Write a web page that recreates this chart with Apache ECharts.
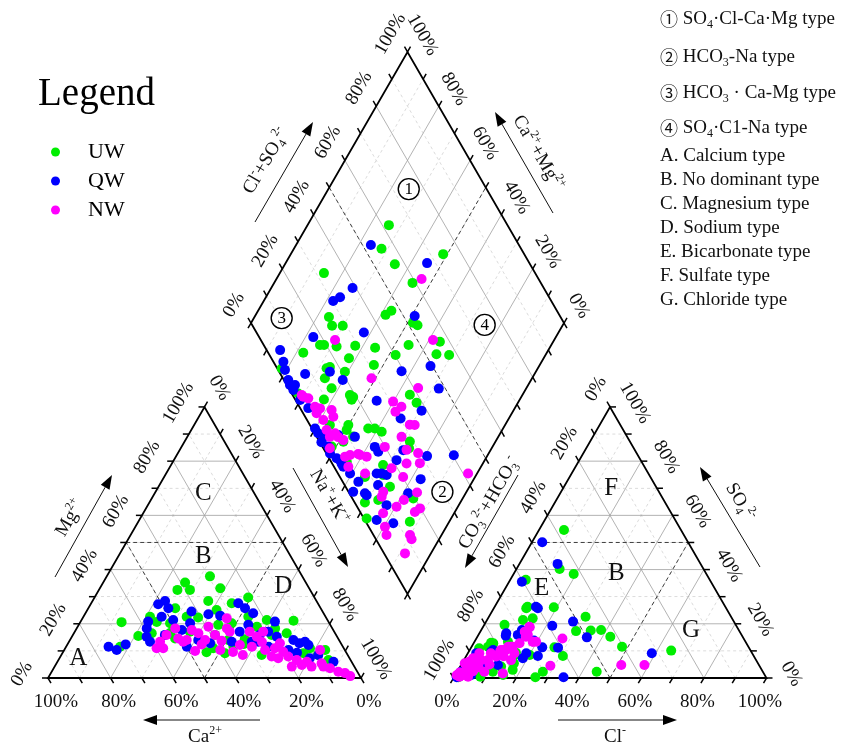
<!DOCTYPE html>
<html>
<head>
<meta charset="utf-8">
<title>Piper diagram</title>
<script src="https://cdn.jsdelivr.net/npm/echarts@6/dist/echarts.min.js"></script>
<style>
  html, body { margin: 0; padding: 0; background: #fff; }
  #chart { width: 841px; height: 744px; }
</style>
</head>
<body>
<div id="chart"></div>
<script>
// ---- data (percent of meq) ----
const groups = ['UW', 'QW', 'NW'];
const groupColors = ['#00ee00', '#0000ff', '#ff00ff'];
const tickValues = [0, 10, 20, 30, 40, 50, 60, 70, 80, 90, 100];
const tickLabels = [0, 20, 40, 60, 80, 100];

// cation triangle: [Ca2+, Mg2+]  (Na+ + K+ is the rest)
const cationUW = [[29.5,37.5],[38.6,35.2],[38.4,32.5],[42.4,32.5],[28.4,33.1],[21.2,29.7],[34.6,28.4],[66.2,20.6],[63.4,15.5],[56.1,22.6],[46.5,25.7],[44.4,22.6],[40.9,22.3],[33.6,25.1],[35.8,19.6],[54.9,20.7],[50.9,20.2],[52.1,14.6],[52.7,16.6],[46.1,17.1],[44.6,9.5],[41.7,11.0],[38.9,9.1],[38.7,15.9],[71.2,11.5],[27.5,27.6],[19.4,21.4],[11.0,21.1],[18.3,18.3],[31.2,20.2],[35.4,14.0],[31.3,12.5],[27.5,8.5],[20.6,15.9],[15.5,16.5],[10.8,11.0],[6.3,10.3],[7.1,6.6],[13.8,9.1],[23.8,18.9],[35.0,11.5],[30.0,14.3],[58.6,16.5],[24.7,22.6],[9.5,8.5]];
const cationQW = [[74.9,11.5],[72.9,10.3],[69.0,12.4],[51.2,27.2],[48.4,28.4],[48.7,25.7],[52.4,22.6],[57.6,20.8],[59.3,18.3],[60.9,15.2],[60.7,13.4],[49.3,21.4],[48.4,17.7],[41.9,24.5],[44.5,20.2],[37.0,23.5],[33.5,23.0],[54.7,15.9],[49.9,11.5],[41.8,12.8],[45.0,14.0],[25.4,27.6],[24.2,25.7],[22.5,23.9],[17.1,20.8],[26.2,19.6],[30.2,17.1],[24.4,15.9],[21.1,17.1],[19.3,15.2],[14.6,14.0],[11.2,13.4],[10.7,12.2],[28.2,13.4],[34.6,13.4],[23.8,11.5],[18.0,10.3],[15.8,9.3],[5.8,6.0],[9.4,8.5],[26.1,13.4],[12.7,7.3],[13.3,12.8]];
const cationNW = [[59.8,11.0],[57.7,11.0],[57.5,13.4],[54.2,15.9],[50.2,18.3],[51.1,14.6],[48.7,14.0],[48.0,10.0],[45.2,17.7],[43.7,16.5],[42.8,14.0],[44.7,12.4],[39.3,18.9],[38.7,15.9],[37.7,13.7],[31.9,22.0],[33.7,18.3],[39.8,10.3],[50.1,13.4],[33.4,17.1],[27.0,17.1],[22.7,17.1],[25.7,15.2],[29.1,11.5],[25.5,10.3],[22.0,11.0],[19.5,12.8],[20.0,9.7],[22.8,7.3],[19.3,7.9],[17.2,6.6],[14.3,6.0],[13.7,4.2],[7.9,10.3],[9.9,5.4],[8.1,3.6],[6.1,2.3],[3.1,0.7],[32.6,12.2],[20.0,4.2],[16.5,4.8],[24.6,7.9],[9.9,4.2],[4.2,1.8],[33.5,8.5],[36.1,9.6],[25.0,13.3]];

// anion triangle: [Cl-, SO4 2-]  (CO3 2- + HCO3- is the rest)
const anionUW = [[8.0,54.6],[13.8,40.2],[19.2,38.4],[5.0,36.2],[10.4,25.7],[19.0,26.1],[30.9,22.6],[11.5,21.4],[30.5,17.3],[35.1,17.5],[38.3,17.7],[42.5,15.2],[48.1,11.5],[64.5,10.1],[44.6,2.3],[30.9,8.1],[26.6,11.3],[27.4,2.3],[26.0,0.3],[17.4,3.0],[16.6,5.4],[15.3,1.1],[5.3,11.5],[15.4,8.5],[2.7,11.0],[6.3,12.8],[9.0,4.2],[10.5,26.3],[6.5,19.6],[14.3,22.0],[5.5,13.0],[15.3,9.3],[20.1,8.5],[13.1,4.2],[11.4,2.3],[7.1,3.6],[8.3,0.5],[2.2,4.8],[1.4,0.3],[10.7,13.4]];
const anionQW = [[3.3,50.1],[12.2,42.1],[4.1,35.5],[14.1,25.7],[27.8,20.8],[21.9,19.3],[35.1,15.0],[58.8,9.1],[35.0,0.3],[22.7,11.3],[27.8,11.2],[22.9,8.1],[18.8,13.8],[13.0,17.7],[8.9,15.6],[18.7,9.1],[7.5,10.3],[13.2,26.3],[8.6,16.5],[7.2,9.7],[12.6,15.9],[18.5,7.3],[11.8,4.8],[7.7,5.4],[2.7,9.1],[1.3,2.3],[0.9,0.3],[5.1,1.1],[3.0,5.0],[1.0,1.5]];
const anionNW = [[15.0,18.7],[15.5,15.2],[27.5,14.6],[18.7,13.4],[51.2,4.8],[58.6,4.8],[28.7,4.5],[13.2,11.5],[11.7,11.5],[10.7,10.3],[10.0,9.7],[15.8,15.9],[18.6,13.4],[14.7,12.8],[12.6,11.5],[10.0,10.3],[9.7,7.9],[7.7,6.6],[5.6,6.6],[4.9,4.8],[3.6,4.2],[2.6,3.0],[2.5,1.1],[1.7,0.5],[4.4,0.5],[8.7,2.3],[14.9,1.7],[15.1,6.6],[14.2,17.1],[14.8,18.9],[19.7,13.4],[2.6,7.3],[0.9,5.4],[3.7,9.1],[7.4,9.1],[14.9,9.1],[11.6,10.3],[1.0,2.0],[0.5,1.0],[3.0,2.0],[6.0,4.0],[5.0,2.5],[2.0,6.0],[9.0,5.0],[12.0,8.0]];

// diamond: [Na+ + K+, Cl- + SO4 2-]
const diamondUW = [[26.0,62.1],[28.0,55.4],[35.1,56.8],[48.7,74.1],[14.1,32.5],[44.2,59.0],[23.8,26.0],[26.4,25.4],[29.8,28.8],[41.5,44.5],[42.6,47.1],[51.7,51.8],[53.6,52.8],[22.2,11.2],[26.1,18.0],[27.4,19.3],[31.7,23.0],[37.5,29.1],[44.2,35.1],[37.8,24.8],[47.0,31.5],[52.1,40.3],[54.4,46.3],[63.8,56.9],[65.0,53.5],[69.2,57.4],[32.5,15.8],[33.8,13.4],[37.8,13.7],[39.0,21.0],[44.9,18.3],[46.3,18.0],[37.4,9.2],[56.9,18.0],[59.0,20.1],[61.8,21.7],[64.0,37.5],[67.6,38.2],[72.6,28.9],[73.6,27.4],[49.9,12.3],[68.4,16.0],[70.3,14.2],[74.6,14.2],[73.3,8.0],[69.5,3.3],[73.0,0.9],[87.4,14.1],[84.2,19.5],[64.8,8.0],[51.4,7.6],[48.6,3.0],[56.2,5.0],[18.2,1.4],[28.1,2.1],[44.0,6.4],[50.3,10.8],[53.6,11.7],[33.3,17.1],[46.3,19.0]];
const diamondQW = [[23.9,52.7],[45.2,67.3],[26.0,38.9],[23.7,33.2],[22.2,30.3],[51.0,53.6],[37.8,34.3],[22.5,17.3],[14.3,4.3],[17.5,3.2],[26.7,7.9],[34.2,16.2],[39.8,18.8],[57.0,39.2],[65.3,49.4],[72.1,47.9],[54.5,25.8],[70.7,38.3],[65.4,30.2],[22.4,1.4],[23.9,1.0],[39.9,1.0],[41.8,1.1],[44.6,2.6],[48.5,7.2],[54.2,12.2],[62.4,16.7],[64.4,16.9],[71.8,21.2],[72.1,25.2],[80.8,31.7],[89.2,40.4],[83.0,25.4],[81.6,18.8],[53.7,3.1],[56.0,3.0],[59.4,3.9],[63.6,5.0],[67.8,5.0],[63.8,1.5],[67.9,12.4],[69.5,14.0],[71.4,15.3],[70.5,10.7],[76.9,9.7],[76.5,3.8],[82.4,8.5],[44.5,0.5],[49.3,1.2],[54.9,3.0],[68.7,5.2],[19.5,2.2],[25.5,2.6],[25.9,1.2],[29.9,1.5],[34.0,2.6],[47.5,1.9],[52.3,2.4]];
const diamondNW = [[46.4,62.6],[30.0,23.7],[61.3,55.0],[48.7,28.3],[65.4,41.4],[59.9,30.9],[63.5,32.6],[62.5,29.8],[69.5,32.0],[71.1,33.5],[69.1,27.1],[65.6,19.9],[73.1,26.3],[77.4,29.4],[75.6,23.8],[79.8,28.1],[71.7,18.1],[77.0,20.2],[84.3,21.8],[81.5,16.2],[80.4,12.6],[87.2,17.5],[88.2,19.8],[73.4,11.1],[73.8,9.7],[77.3,7.1],[80.4,5.2],[82.4,4.2],[89.9,11.7],[91.2,11.4],[91.7,6.7],[97.1,41.6],[56.0,7.3],[58.4,10.1],[61.6,12.3],[64.2,8.7],[57.6,4.6],[30.3,3.1],[32.2,4.4],[35.9,5.0],[37.8,6.3],[37.6,4.3],[41.8,9.7],[43.6,9.0],[41.0,5.2],[43.9,4.4],[46.2,4.2],[47.2,6.5],[48.3,2.1],[29.5,2.9],[48.9,6.8],[51.1,7.9],[54.7,5.4],[59.2,10.5]];

const notes = [
  '{c|①} SO{s|4}·Cl-Ca·Mg type',
  '{c|②} HCO{s|3}-Na type',
  '{c|③} HCO{s|3} · Ca-Mg type',
  '{c|④} SO{s|4}·C1-Na type',
  'A. Calcium type',
  'B. No dominant type',
  'C. Magnesium type',
  'D. Sodium type',
  'E. Bicarbonate type',
  'F. Sulfate type',
  'G. Chloride type'
];

// ---- layout ----
const SERIF = '"Liberation Serif", "DejaVu Serif", serif';
const SIDE = 313;
const HT = SIDE * Math.sqrt(3) / 2;
const CAT = [48, 678];    // Ca corner of the cation triangle
const ANI = [453.5, 678]; // HCO3 corner of the anion triangle
const DIA = [251, 323];   // left corner of the diamond
const TICK = 6;
const S3 = Math.sqrt(3) / 2;

function catXY(ca, mg) {
  const na = 100 - ca - mg;
  return [CAT[0] + (na + mg / 2) / 100 * SIDE, CAT[1] - mg / 100 * HT];
}
function aniXY(cl, so4) {
  return [ANI[0] + (cl + so4 / 2) / 100 * SIDE, ANI[1] - so4 / 100 * HT];
}
function diaXY(nak, clso4) {
  return [DIA[0] + (nak + clso4) / 200 * SIDE, DIA[1] + (nak - clso4) / 100 * HT];
}

const FRAME = { stroke: '#000', lineWidth: 1.8, fill: null };
const MAJOR = { stroke: '#a0a0a0', lineWidth: 0.8 };
const MINOR = { stroke: '#cccccc', lineWidth: 0.7, lineDash: [3, 3] };
const ZONE = { stroke: '#2a2a2a', lineWidth: 0.9, lineDash: [4, 3] };

const shapes = [];
const seg = (a, b, style) => shapes.push({ t: 'line', a, b, style });

// inner grid
tickValues.slice(1, -1).forEach(k => {
  const st = k % 20 ? MINOR : MAJOR;
  seg(catXY(100 - k, k), catXY(0, k), st);
  seg(catXY(k, 0), catXY(k, 100 - k), st);
  seg(catXY(100 - k, 0), catXY(0, 100 - k), st);
  seg(aniXY(0, k), aniXY(100 - k, k), st);
  seg(aniXY(k, 0), aniXY(k, 100 - k), st);
  seg(aniXY(100 - k, 0), aniXY(0, 100 - k), st);
  seg(diaXY(0, k), diaXY(100, k), st);
  seg(diaXY(k, 0), diaXY(k, 100), st);
});

// zone boundaries
seg(catXY(50, 50), catXY(0, 50), ZONE);
seg(catXY(50, 0), catXY(50, 50), ZONE);
seg(catXY(50, 0), catXY(0, 50), ZONE);
seg(aniXY(0, 50), aniXY(50, 50), ZONE);
seg(aniXY(50, 0), aniXY(50, 50), ZONE);
seg(aniXY(50, 0), aniXY(0, 50), ZONE);
seg(diaXY(0, 50), diaXY(100, 50), ZONE);
seg(diaXY(50, 0), diaXY(50, 100), ZONE);

// outlines
shapes.push({ t: 'poly', pts: [catXY(100, 0), catXY(0, 0), catXY(0, 100)] });
shapes.push({ t: 'poly', pts: [aniXY(0, 0), aniXY(100, 0), aniXY(0, 100)] });
shapes.push({ t: 'poly', pts: [diaXY(0, 0), diaXY(100, 0), diaXY(100, 100), diaXY(0, 100)] });

// ticks and tick labels
const axes = [
  { at: k => catXY(k, 0), dir: [0.5, S3], off: [8, 24], rot: 0 },
  { at: k => catXY(100 - k, k), dir: [-1, 0], off: [-26, -4], rot: Math.PI / 3 },
  { at: k => catXY(0, 100 - k), dir: [0.5, -S3], off: [15, -19], rot: -Math.PI / 3 },
  { at: k => aniXY(k, 0), dir: [-0.5, S3], off: [-6.5, 24], rot: 0 },
  { at: k => aniXY(0, 100 - k), dir: [-0.5, -S3], off: [-14, -18], rot: Math.PI / 3 },
  { at: k => aniXY(100 - k, k), dir: [1, 0], off: [25, -4], rot: -Math.PI / 3 },
  { at: k => diaXY(0, k), dir: [-0.5, -S3], off: [-17, -18], rot: Math.PI / 3 },
  { at: k => diaXY(100 - k, 100), dir: [0.5, -S3], off: [15, -17], rot: -Math.PI / 3 },
  { at: k => diaXY(k, 0), dir: [-0.5, S3], noLabel: true },
  { at: k => diaXY(100, k), dir: [0.5, S3], noLabel: true }
];
axes.forEach(ax => {
  tickValues.forEach(k => shapes.push({ t: 'tick', p: ax.at(k), dir: ax.dir }));
  if (ax.noLabel) return;
  tickLabels.forEach(k => shapes.push({ t: 'text', p: ax.at(k), off: ax.off, rot: ax.rot, text: k + '%', size: 19 }));
});

// axis titles and arrows (pixel layout)
const titles = [
  { p: [70, 518], rot: Math.PI / 3, text: 'Mg{sup|2+}' },
  { p: [329, 497], rot: -Math.PI / 3, text: 'Na{sup|+}+K{sup|+}' },
  { p: [205, 737], rot: 0, text: 'Ca{sup|2+}' },
  { p: [615, 737], rot: 0, text: 'Cl{sup|-}' },
  { p: [740, 502], rot: -Math.PI / 3, text: 'SO{sub|4}{sup|2-}' },
  { p: [489, 503], rot: Math.PI / 3, text: 'CO{sub|3}{sup|2-}+HCO{sub|3}{sup|-}' },
  { p: [266, 161], rot: Math.PI / 3, text: 'Cl{sup|-}+SO{sub|4}{sup|2-}' },
  { p: [538, 153], rot: -Math.PI / 3, text: 'Ca{sup|2+}+Mg{sup|2+}' }
];
titles.forEach(o => shapes.push({ t: 'text', p: o.p, off: [0, 0], rot: o.rot, text: o.text, size: 19 }));
const arrows = [
  [[55, 577], [112, 475]], [[293, 468], [348, 567]],
  [[260, 720], [143, 720]], [[558, 720], [677, 720]],
  [[760, 567], [700, 467]], [[518, 475], [465, 568]],
  [[255, 222], [313, 122]], [[553, 213], [495, 112]]
];
arrows.forEach(a => shapes.push({ t: 'arrow', a: a[0], b: a[1] }));

// zone labels
[['C', catXY(16.3, 68.2)], ['B', catXY(28, 44.8)], ['A', catXY(86.7, 7.3)], ['D', catXY(8, 33.7)],
 ['F', aniXY(15.4, 70)], ['B', aniXY(32.7, 38.6)], ['E', aniXY(11.6, 33.1)], ['G', aniXY(67, 17.7)]]
  .forEach(z => shapes.push({ t: 'text', p: z[1], off: [0, 0], rot: 0, text: z[0], size: 25 }));
[['1', diaXY(25.7, 75.1)], ['3', diaXY(8.9, 10.7)], ['4', diaXY(75, 74.3)], ['2', diaXY(92.3, 30)]]
  .forEach(z => shapes.push({ t: 'circ', p: z[1], text: z[0] }));

const richTitle = {
  sup: { fontSize: 12, lineHeight: 12, verticalAlign: 'top', fontFamily: SERIF },
  sub: { fontSize: 12, lineHeight: 12, verticalAlign: 'bottom', fontFamily: SERIF }
};

function renderStructure(params, api) {
  const children = [];
  shapes.forEach(s => {
    if (s.t === 'line') {
      const a = api.coord(s.a), b = api.coord(s.b);
      children.push({ type: 'line', silent: true, shape: { x1: a[0], y1: a[1], x2: b[0], y2: b[1] }, style: s.style });
    } else if (s.t === 'poly') {
      children.push({ type: 'polygon', silent: true, shape: { points: s.pts.map(p => api.coord(p)) }, style: FRAME });
    } else if (s.t === 'tick') {
      const a = api.coord(s.p);
      children.push({ type: 'line', silent: true,
        shape: { x1: a[0], y1: a[1], x2: a[0] + s.dir[0] * TICK, y2: a[1] + s.dir[1] * TICK },
        style: { stroke: '#000', lineWidth: 1.5 } });
    } else if (s.t === 'text') {
      const a = api.coord(s.p);
      children.push({ type: 'text', silent: true, x: a[0] + s.off[0], y: a[1] + s.off[1], rotation: s.rot,
        style: { text: s.text, fontFamily: SERIF, fontSize: s.size, lineHeight: 24, fill: '#111',
          align: 'center', verticalAlign: 'middle', rich: richTitle } });
    } else if (s.t === 'arrow') {
      const a = api.coord(s.a), b = api.coord(s.b);
      const dx = b[0] - a[0], dy = b[1] - a[1], len = Math.hypot(dx, dy);
      const ux = dx / len, uy = dy / len, hl = 14, hw = 5;
      const bx = b[0] - ux * hl, by = b[1] - uy * hl;
      children.push({ type: 'line', silent: true, shape: { x1: a[0], y1: a[1], x2: bx, y2: by },
        style: { stroke: '#111', lineWidth: 1 } });
      children.push({ type: 'polygon', silent: true,
        shape: { points: [[b[0], b[1]], [bx - uy * hw, by + ux * hw], [bx + uy * hw, by - ux * hw]] },
        style: { fill: '#000' } });
    } else if (s.t === 'circ') {
      const a = api.coord(s.p);
      children.push({ type: 'circle', silent: true, shape: { cx: a[0], cy: a[1], r: 10.5 },
        style: { fill: '#fff', stroke: '#000', lineWidth: 1.4 } });
      children.push({ type: 'text', silent: true, x: a[0], y: a[1] + 0.5,
        style: { text: s.text, fontFamily: SERIF, fontSize: 17, fill: '#000', align: 'center', verticalAlign: 'middle' } });
    }
  });
  return { type: 'group', children };
}

const pointSets = [
  [cationUW.map(d => catXY(d[0], d[1])), cationQW.map(d => catXY(d[0], d[1])), cationNW.map(d => catXY(d[0], d[1]))],
  [anionUW.map(d => aniXY(d[0], d[1])), anionQW.map(d => aniXY(d[0], d[1])), anionNW.map(d => aniXY(d[0], d[1]))],
  [diamondUW.map(d => diaXY(d[0], d[1])), diamondQW.map(d => diaXY(d[0], d[1])), diamondNW.map(d => diaXY(d[0], d[1]))]
];

const series = [{
  type: 'custom',
  coordinateSystem: 'cartesian2d',
  data: [[0, 0]],
  renderItem: renderStructure,
  silent: true,
  clip: false,
  z: 1
}];
groups.forEach((g, gi) => {
  pointSets.forEach(set => {
    series.push({
      name: g,
      type: 'scatter',
      data: set[gi],
      symbolSize: 10,
      itemStyle: { color: groupColors[gi], opacity: 1 },
      z: 3
    });
  });
});

const noteY = [19, 57, 93, 128, 156, 180, 204, 228, 252, 276, 300];

const chart = echarts.init(document.getElementById('chart'));
chart.setOption({
  animation: false,
  backgroundColor: '#fff',
  title: {
    text: 'Legend', left: 38, top: 75, padding: 0,
    textStyle: { fontFamily: SERIF, fontSize: 39, fontWeight: 'normal', color: '#000' }
  },
  legend: {
    data: groups,
    orient: 'vertical',
    left: 46, top: 136,
    itemWidth: 9, itemHeight: 9, itemGap: 7,
    icon: 'circle',
    selectedMode: false,
    textStyle: { fontFamily: SERIF, fontSize: 22, lineHeight: 22, color: '#000', padding: [0, 0, 0, 23] }
  },
  grid: { left: 0, right: 0, top: 0, bottom: 0 },
  xAxis: { type: 'value', min: 0, max: 841, show: false },
  yAxis: { type: 'value', min: 0, max: 744, inverse: true, show: false },
  graphic: notes.map((t, i) => ({
    type: 'text', left: 660, top: noteY[i] - 12, silent: true,
    style: {
      text: t, fontFamily: SERIF, fontSize: 19, lineHeight: 24, fill: '#111',
      rich: {
        s: { fontSize: 12, lineHeight: 12, verticalAlign: 'bottom', fontFamily: SERIF },
        c: { fontSize: 18, fontFamily: '"Noto Sans CJK SC", "DejaVu Sans", sans-serif' }
      }
    }
  })),
  series
});
</script>
</body>
</html>
